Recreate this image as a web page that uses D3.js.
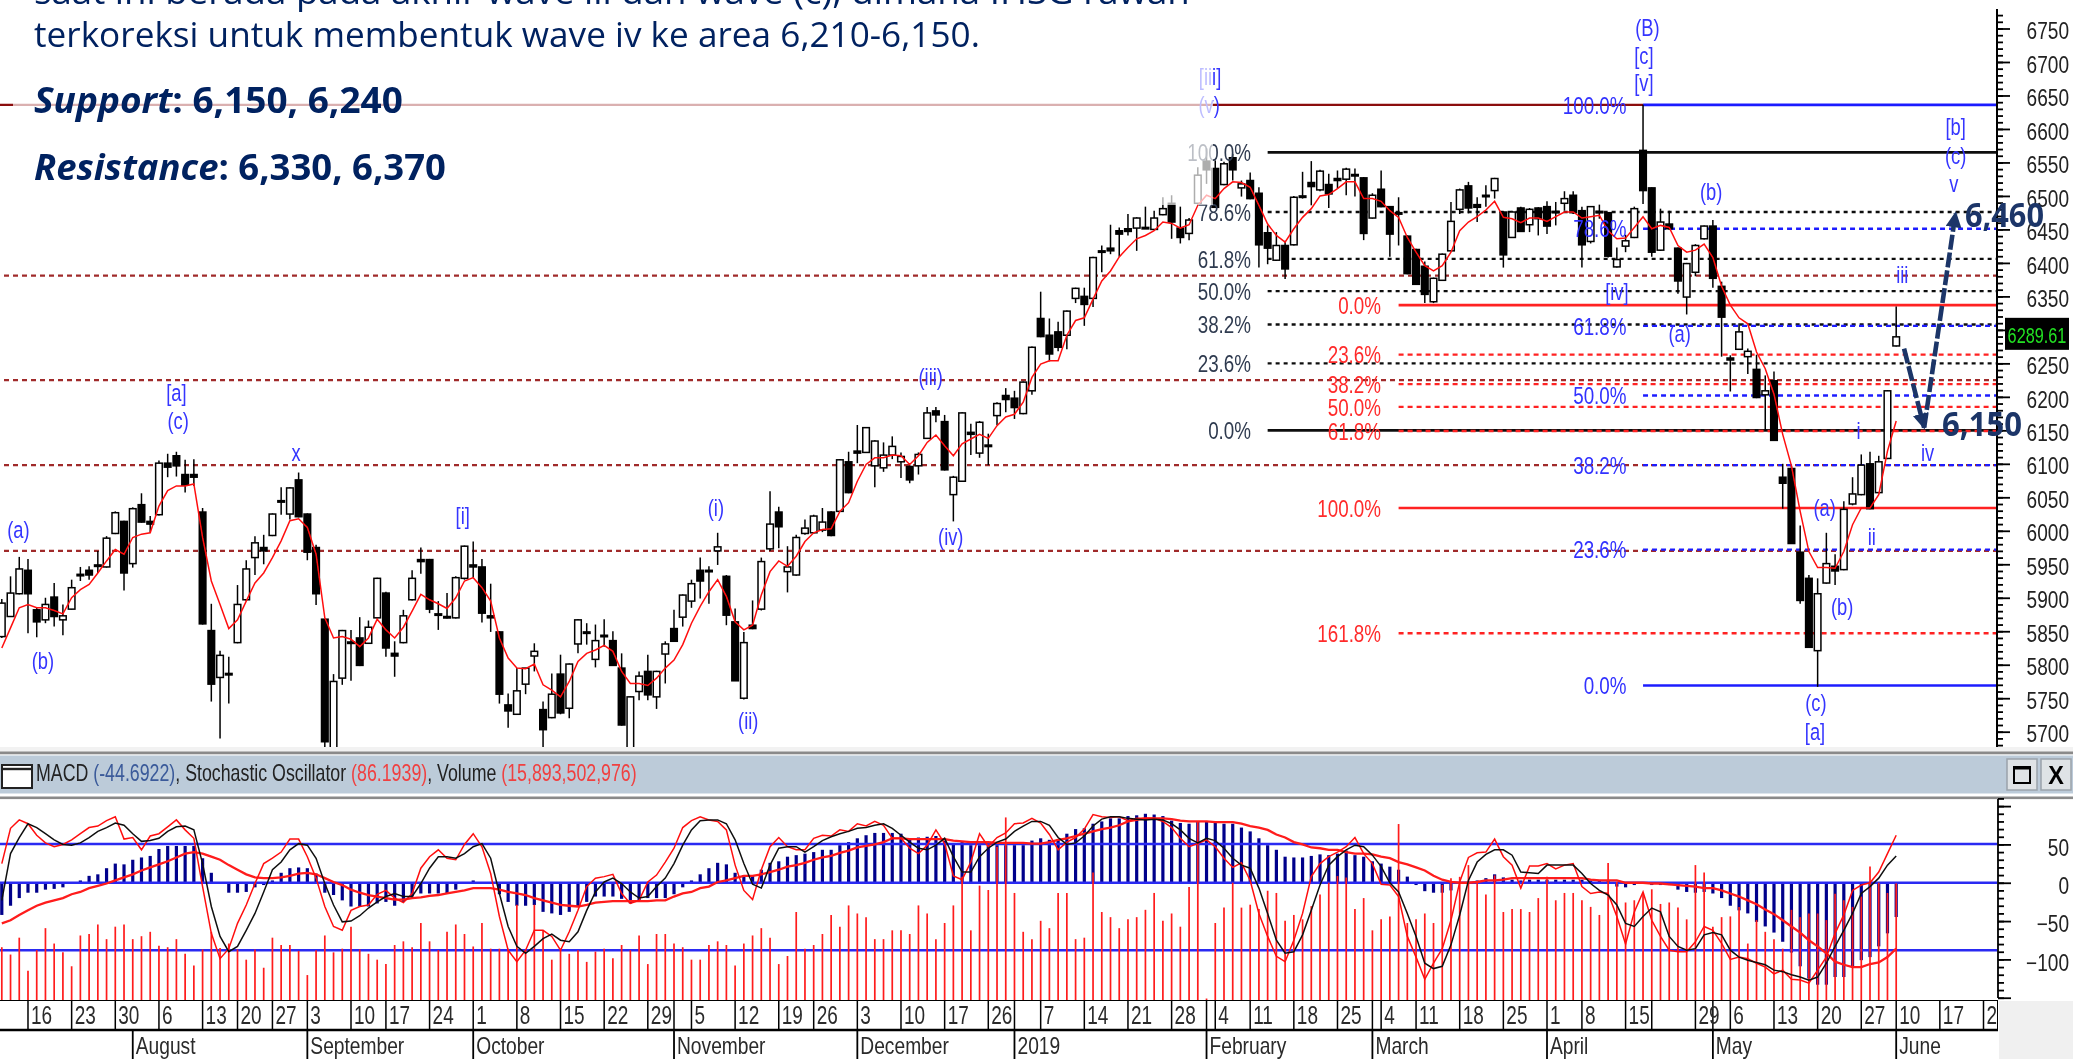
<!DOCTYPE html>
<html><head><meta charset="utf-8">
<script src="https://cdnjs.cloudflare.com/ajax/libs/d3/7.8.5/d3.min.js"></script>
<style>
html,body{margin:0;padding:0;background:#fff;overflow:hidden}
svg{display:block}
</style></head><body>
<svg id="c" width="2073" height="1059" font-family="Liberation Sans"></svg>
<script>
// [open, high, low, close] per trading session
const ohlc=[[5842,5898,5840,5892],[5872,5932,5872,5907],[5906,5961,5905,5943],[5941,5958,5847,5906],[5882,5885,5841,5864],[5867,5900,5862,5890],[5901,5922,5857,5872],[5867,5890,5844,5873],[5883,5927,5882,5915],[5934,5946,5925,5935],
[5941,5947,5927,5934],[5948,5970,5937,5949],[5946,5992,5945,5989],[5996,6029,5995,6027],[6014,6015,5911,5937],[5951,6035,5945,6033],[6039,6056,6012,6013],[6014,6022,5997,6010],[6024,6105,6023,6101],[6101,6115,6080,6095],
[6112,6118,6081,6097],[6084,6106,6057,6068],[6084,6107,6067,6080],[6028,6034,5860,5861],[5851,5891,5745,5771],[5781,5821,5690,5814],[5786,5812,5742,5787],[5833,5919,5832,5890],[5897,5956,5895,5943],[5960,5992,5934,5982],
[5975,5994,5950,5970],[5993,6026,5992,6025],[6044,6065,6024,6045],[6025,6065,6017,6064],[6076,6087,6020,6021],[6025,6026,5956,5968],[5975,5979,5889,5906],[5868,5868,5675,5685],[5665,5786,5660,5775],[5780,5852,5770,5851],
[5833,5852,5776,5834],[5840,5871,5798,5799],[5832,5866,5831,5856],[5870,5930,5869,5929],[5907,5909,5812,5825],[5817,5835,5782,5813],[5833,5882,5832,5873],[5897,5941,5896,5929],[5957,5975,5936,5954],[5957,5958,5877,5883],
[5875,5895,5852,5876],[5872,5907,5869,5870],[5870,5932,5869,5930],[5929,5978,5927,5977],[5949,5984,5929,5946],[5946,5958,5863,5877],[5873,5921,5849,5870],[5849,5850,5742,5756],[5740,5757,5706,5731],[5726,5795,5725,5761],
[5771,5795,5756,5795],[5813,5832,5790,5820],[5733,5745,5675,5703],[5721,5787,5720,5756],[5786,5815,5726,5728],[5735,5802,5720,5801],[5831,5868,5817,5867],[5847,5862,5830,5849],[5808,5860,5796,5836],[5842,5868,5827,5844],
[5836,5850,5798,5799],[5795,5817,5709,5710],[5675,5753,5665,5752],[5760,5790,5747,5783],[5790,5815,5747,5755],[5752,5791,5734,5790],[5816,5835,5772,5831],[5854,5882,5834,5835],[5871,5905,5857,5904],[5895,5927,5885,5921],
[5941,5960,5899,5925],[5940,5947,5891,5941],[5970,5997,5949,5976],[5932,5934,5859,5874],[5864,5884,5776,5776],[5750,5849,5748,5833],[5859,5896,5853,5854],[5883,5960,5881,5954],[5973,6059,5970,6010],[6028,6036,5974,6006],
[5939,5977,5908,5946],[5934,5994,5933,5990],[5996,6017,5994,6004],[5997,6024,5996,6022],[6001,6034,5998,6013],[6028,6029,5992,5993],[6029,6107,6028,6106],[6103,6118,6056,6057],[6119,6158,6101,6116],[6117,6154,6116,6154],
[6097,6135,6065,6134],[6094,6132,6088,6113],[6113,6141,6107,6126],[6103,6117,6079,6111],[6096,6098,6071,6076],[6097,6117,6084,6114],[6138,6185,6138,6176],[6179,6185,6162,6173],[6163,6173,6090,6091],[6054,6082,6014,6080],
[6074,6177,6073,6176],[6147,6160,6113,6144],[6116,6164,6109,6162],[6128,6145,6098,6126],[6172,6192,6158,6190],[6202,6213,6177,6196],[6198,6209,6167,6184],[6175,6223,6174,6222],[6209,6275,6203,6274],[6317,6357,6289,6290],
[6292,6317,6253,6264],[6297,6312,6268,6274],[6292,6329,6271,6328],[6347,6363,6340,6362],[6350,6363,6306,6338],[6347,6409,6334,6408],[6416,6426,6386,6418],[6422,6457,6413,6418],[6448,6453,6409,6443],[6451,6473,6441,6447],
[6452,6468,6418,6467],[6452,6484,6451,6453],[6450,6478,6449,6467],[6472,6498,6471,6481],[6489,6501,6436,6461],[6452,6484,6429,6438],[6444,6467,6434,6464],[6489,6543,6487,6531],[6552,6571,6518,6539],[6541,6553,6482,6483],
[6517,6551,6516,6548],[6557,6563,6523,6539],[6512,6523,6499,6518],[6523,6535,6495,6496],[6504,6513,6393,6427],[6445,6456,6398,6422],[6404,6446,6403,6426],[6426,6433,6376,6391],[6427,6500,6426,6498],[6498,6536,6496,6500],
[6520,6552,6486,6514],[6509,6539,6507,6537],[6517,6533,6482,6503],[6526,6538,6511,6523],[6525,6542,6501,6540],[6532,6541,6499,6530],[6527,6528,6434,6444],[6467,6504,6466,6501],[6510,6538,6483,6484],[6484,6485,6409,6443],
[6475,6498,6426,6473],[6440,6441,6383,6384],[6420,6421,6367,6368],[6395,6402,6340,6353],[6342,6378,6340,6377],[6374,6414,6373,6413],[6418,6491,6417,6462],[6480,6511,6473,6509],[6515,6521,6474,6482],[6487,6498,6461,6483],
[6501,6516,6484,6499],[6508,6527,6496,6526],[6476,6477,6393,6412],[6438,6478,6437,6476],[6482,6484,6446,6447],[6457,6482,6446,6480],[6482,6483,6441,6466],[6484,6492,6443,6455],[6477,6491,6456,6475],[6489,6507,6478,6496],
[6501,6507,6473,6475],[6478,6484,6393,6427],[6432,6485,6429,6484],[6477,6487,6466,6476],[6475,6476,6408,6410],[6394,6423,6393,6405],[6425,6442,6416,6433],[6438,6484,6437,6481],[6568,6636,6488,6508],[6512,6513,6409,6416],
[6419,6481,6418,6461],[6458,6478,6449,6451],[6422,6423,6354,6373],[6349,6400,6323,6399],[6386,6428,6380,6426],[6436,6456,6435,6455],[6455,6464,6363,6377],[6365,6372,6260,6319],[6258,6262,6208,6255],[6271,6310,6270,6297],
[6260,6272,6234,6268],[6241,6263,6198,6199],[6203,6232,6149,6209],[6224,6238,6135,6135],[6080,6100,6033,6071],[6093,6097,5981,5981],[5968,6008,5891,5896],[5929,5934,5826,5826],[5821,5929,5767,5906],[5922,5997,5921,5951],
[5947,5965,5919,5940],[5942,6044,5941,6032],[6040,6080,6038,6055],[6054,6114,6053,6098],[6100,6118,6032,6033],[6057,6112,6056,6103],[6108,6210,6107,6209],[6276,6335,6275,6289.61]];

const movingAverage=[5825,5855,5885,5890,5885,5885,5881,5876,5900,5912,5920,5937,5955,5972,5965,5990,5995,5997,6037,6060,6067,6067,6070,5990,5925,5890,5854,5867,5895,5922,5937,5960,5985,6015,6018,6005,5965,5870,5840,5842,5838,5827,5840,5868,5852,5840,5856,5880,5905,5897,5891,5884,5900,5925,5930,5915,5895,5840,5810,5795,5794,5801,5770,5762,5752,5775,5805,5817,5822,5829,5820,5790,5772,5772,5769,5780,5795,5807,5830,5862,5887,
5909,5927,5902,5864,5852,5859,5904,5939,5955,5947,5962,5984,5997,6002,6003,6029,6042,6074,6099,6109,6109,6113,6112,6099,6112,6132,6143,6127,6112,6130,6137,6144,6138,6157,6170,6174,6192,6229,6249,6254,6254,6292,6314,6318,6346,6373,6388,6409,6423,6436,6441,6448,6461,6459,6452,6457,6486,6501,6496,6511,6521,6520,6513,6486,6458,6441,6431,6451,6468,6481,6500,6502,6511,6521,6521,6496,6496,6492,6478,6468,6438,6416,6396,6388,6396,6416,6448,6461,6469,6479,6492,6468,6466,6460,6467,6467,6462,6469,6476,6476,6467,6469,6471,6448,6436,6437,6453,6469,6451,6456,6453,6426,6416,6419,6428,6408,6365,6337,6318,6309,6267,6242,6204,6144,6097,6029,5969,5945,5945,5944,5969,6009,6034,6034,6054,6119,6164];

const macdHistogram=[-42,-30,-20,-13,-13,-9,-8,-6,0,3,9,11,19,25,24,30,33,35,44,48,48,48,48,32,13,0,-13,-13,-12,-6,-3,3,13,19,20,19,12,-13,-16,-23,-31,-31,-31,-27,-25,-30,-25,-18,-14,-14,-14,-14,-9,0,3,0,0,-15,-25,-30,-30,-29,-38,-40,-42,-38,-31,-25,-18,-18,-18,-21,-27,-23,-20,-20,-20,-15,-6,3,11,
19,26,24,13,10,10,17,26,28,34,36,38,40,43,43,49,53,58,62,65,65,65,64,58,59,60,61,55,50,53,49,49,49,49,49,49,49,55,58,56,57,64,70,71,77,80,84,84,87,88,90,89,87,81,78,77,80,80,78,77,77,72,67,58,49,43,34,33,33,35,37,36,38,42,36,34,28,25,21,17,8,-3,-11,-13,-13,-10,0,0,3,6,11,7,4,3,4,4,4,4,4,4,4,3,3,3,-5,-6,-3,0,-3,-3,-3,-9,-12,-13,-12,-14,-20,-30,-36,-40,-51,-57,-65,-77,-91,-109,-125,-133,-133,-123,-123,-110,-101,-97,-83,-66,-44.7];

const macdSignal=[-53,-49,-42,-36,-30,-26,-23,-20,-15,-12,-7,-4,-1,3,7,11,16,20,24,28,33,38,40,38,34,30,23,17,11,7,6,6,7,9,12,13,11,6,1,-3,-9,-13,-16,-18,-20,-22,-22,-20,-19,-17,-16,-14,-12,-10,-7,-7,-7,-9,-12,-14,-16,-20,-23,-26,-29,-30,-31,-29,-26,-25,-24,-24,-24,-24,-24,-23,-23,-18,-14,-12,-7,
-5,1,3,6,9,9,11,14,17,21,23,26,30,33,35,39,42,46,48,50,53,58,58,57,57,57,57,57,55,54,53,53,53,52,52,52,52,51,51,53,56,58,61,64,67,70,72,75,80,82,84,84,84,83,81,80,80,80,79,79,79,77,74,72,69,63,59,53,50,46,45,43,43,40,38,38,37,34,32,27,24,20,16,9,4,1,0,0,1,3,3,4,6,6,6,6,6,6,6,6,6,4,3,3,3,0,0,0,-1,-1,-2,-3,-4,-5,-7,-7,-10,-14,-18,-23,-28,-35,-41,-49,-57,-65,-75,-83,-92,-103,-107,-110,-110,-106,-104,-97,-86];

const stochK=[25,71,82,77,62,52,47,50,56,64,72,74,81,86,57,59,43,61,64,73,82,69,58,-5,-66,-99,-86,-53,-29,-1,25,32,40,57,57,34,6,-31,-57,-62,-36,-31,-29,-15,-10,-20,-26,-14,19,34,43,32,30,50,64,47,12,-44,-88,-103,-88,-62,-62,-70,-88,-64,-36,-5,6,8,11,-14,-27,-23,1,10,27,45,72,81,86,
82,80,69,23,-10,-22,17,47,59,47,43,43,58,62,61,69,67,77,74,80,75,58,58,45,38,49,69,51,9,4,27,64,47,59,65,77,78,84,78,63,43,53,59,70,89,86,85,86,81,84,84,84,80,72,58,47,51,56,47,32,20,26,3,-40,-70,-96,-103,-75,-40,8,25,34,40,47,59,38,25,-2,-3,-18,-70,-97,-126,-105,-86,-49,1,33,39,40,57,34,23,-7,22,22,25,18,23,25,-5,-14,-12,-14,-44,-80,-38,-12,-49,-70,-88,-90,-90,-77,-57,-62,-79,-100,-97,-99,-105,-110,-119,-114,-126,-127,-131,-114,-97,-66,-42,-10,-3,0,14,38,62];

const stochD=[-23,38,59,77,72,64,56,50,49,52,59,67,72,78,75,64,54,55,58,67,73,74,69,25,-31,-70,-90,-83,-62,-40,-12,17,27,43,51,49,32,-1,-29,-51,-50,-43,-33,-25,-18,-14,-18,-18,-1,19,34,34,32,38,47,51,32,-14,-57,-83,-92,-83,-73,-67,-75,-77,-64,-36,-12,1,6,-1,-12,-20,-18,-5,6,25,49,69,81,
82,82,77,56,25,-2,-7,23,45,47,47,40,47,55,60,64,67,71,72,75,77,71,62,53,45,43,49,58,34,14,14,34,45,53,57,67,74,80,80,75,59,50,52,61,74,83,86,86,84,83,82,83,82,77,69,58,52,58,55,45,32,23,19,-7,-40,-75,-92,-90,-68,-36,-3,23,34,43,49,47,36,21,0,-12,-40,-70,-105,-112,-109,-81,-42,3,27,37,43,43,36,14,13,12,23,23,23,23,12,-1,-10,-16,-29,-53,-57,-44,-33,-38,-70,-83,-88,-86,-68,-65,-68,-88,-97,-101,-104,-107,-114,-116,-120,-123,-127,-123,-105,-83,-62,-40,-14,-5,6,23,35];

// daily volume, billions of shares
const volumeB=[7.2,6.2,8.5,4,6.8,9.8,7.7,6.5,4.6,8.8,9,10.3,8.3,10,10.3,8.3,8.7,9.3,7.4,7.2,8.3,6.3,4.7,6.9,9.3,7.1,7.7,6.9,5.5,6.9,4.4,8.5,7.5,7.5,6.7,3.4,6.8,8.8,6.5,7,10,6.9,6.3,5.5,4.9,7.5,8,7.2,10.5,8,6.8,9.3,10.3,9,7.3,10.5,7,7,7,13,6.8,13,9.5,5.5,6.8,6.3,6.8,5.2,6.6,7,5.7,7.5,6.8,8.8,4.9,9,9,7.7,7.2,5.5,5.5,
7.5,8,7.5,4.7,7.7,8.8,9.8,8.5,4.9,6,12,7,7.5,9,11.6,10,12.9,11.8,11.3,8.3,8.3,9.5,9.5,9,12.9,11.8,8.3,10.5,12.9,16.8,9.5,15.6,15,20.9,24.9,14.6,9.3,8.3,10.8,9.8,14.6,14.6,8.3,8.5,17.4,12,11.3,9.8,11,11.3,12.3,14.6,10.8,11.8,10,15.4,24.3,0.2,10.5,12.6,16,12.6,13,12.4,14.9,14.6,10.8,11.6,11,12.8,14.4,16,16.9,16.7,12.4,13.9,9.5,11,11.4,24,10.5,11,11.8,10.5,15.7,16.6,16.8,18.4,16.1,14.4,17,12,12.4,12.4,12,13.9,16.8,13.6,14.6,14.6,13.6,12.7,11.6,18.7,16.1,13.3,13.6,14.5,15.1,13.1,13.3,12.6,11,18.4,17.4,10,11.3,11.4,12.7,7.7,10.9,9.3,8.3,7,12.3,11.3,11.8,11.8,10.9,14.5,13.6,12.7,14.1,18.2,16,14.6,15.9];

const priceTicks=d3.range(5700,6751,50);
const priceMinor=d3.range(5680,6771,10);
const oscTicks=[-100,-50,0,50];
const oscTicksMajor=[-150,-100,-50,0,50,100];
const oscMinor=d3.range(-150,111,10);
const oscLevels=[50.5,0,-88];
const tagValue=6289.61;

const dayIdx=[3,8,13,18,23,27,31,35,40,44,49,54,59,64,69,74,79,84,89,93,98,103,108,113,119,124,129,134,139,143,148,153,158,162,167,172,177,181,186,194,198,203,208,213,217,222,227];
const dayLabels=["16","23","30","6","13","20","27","3","10","17","24","1","8","15","22","29","5","12","19","26","3","10","17","26","7","14","21","28","4","11","18","25","4","11","18","25","1","8","15","29","6","13","20","27","10","17","2"];
const extraDayTicks=[77,116,138,157,189,196];
const monthIdx=[15,35,54,77,98,116,138,157,177,196,217];
const monthLabels=["August","September","October","November","December","2019","February","March","April","May","June"];

const resistanceDashed=[6381,6225,6098,5970];
const topLine=6636;
const fibBlackPct=["100.0%","78.6%","61.8%","50.0%","38.2%","23.6%","0.0%"];
const fibBlack=[6565,6476,6406,6358,6308,6250,6150];
const fibBlackSolid=[true,false,false,false,false,false,true];
const fibRedPct=["0.0%","23.6%","38.2%","50.0%","61.8%","100.0%","161.8%"];
const fibRed=[6337,6263,6219,6185,6149,6034,5847];
const fibRedSolid=[true,false,false,false,false,true,false];
const fibBluePct=["100.0%","78.6%","61.8%","50.0%","38.2%","23.6%","0.0%"];
const fibBlue=[6636,6451,6306,6202,6098,5972,5769];
const fibBlueSolid=[true,false,false,false,false,false,true];

const waveText=["(a)","(b)","[a]","(c)","x","[i]","(i)","(ii)","(iii)","(iv)","[iii]","(v)","(B)","[c]","[v]","[b]","(c)","v","(b)","[iv]","(a)","iii","i","iv","(a)","ii","(b)","(c)","[a]"];
const waveIdx=[1.9,4.7,20,20.2,33.7,52.8,81.8,85.5,106.4,108.7,138.4,138.3,188.5,188.1,188.1,223.8,223.8,223.6,195.8,185,192.2,217.7,212.7,220.6,208.8,214.2,210.8,207.8,207.7];
const wavePrice=[6001,5806,6207,6165,6116,6023,6034,5716,6230,5991,6678,6636,6752,6710,6669,6603,6560,6519,6507,6357,6295,6383,6149,6116,6034,5991,5886,5743,5700];

const arrowDownIdx=[217.9,220.2],arrowDownPrice=[6272,6154];
const arrowUpIdx=[220.2,223.8],arrowUpPrice=[6154,6474];

const svg=d3.select("#c");
const AX=1997;
const FF="Liberation Sans";
const x=d3.scaleLinear().domain([0,217]).range([1.8,1896.2]);
const y=d3.scaleLinear().domain([5700,6750]).range([731.7,28.5]);
const o=d3.scaleLinear().domain([-100,100]).range([959.4,806.1]);
const v=d3.scaleLinear().domain([0,25]).range([1000,816.7]);
const defs=svg.append("defs");
defs.append("filter").attr("id","soft").attr("x",0).attr("y",0).attr("width",1).attr("height",1)
  .attr("filterUnits","objectBoundingBox").append("feGaussianBlur").attr("stdDeviation",0.7);
defs.append("clipPath").attr("id","pp").append("rect").attr("width",AX).attr("height",747);
defs.append("clipPath").attr("id","op").append("rect").attr("y",799).attr("width",AX).attr("height",201);
defs.append("clipPath").attr("id","dp").append("rect").attr("y",1000).attr("width",1998).attr("height",59);
const mk=defs.append("marker").attr("id","ah").attr("markerUnits","userSpaceOnUse")
 .attr("markerWidth",18).attr("markerHeight",18).attr("refX",14).attr("refY",8).attr("orient","auto");
mk.append("path").attr("d","M0,0L16,8L0,16Z").attr("fill","#1a3668");

const root=svg.append("g").attr("filter","url(#soft)");
root.append("rect").attr("width",2073).attr("height",1059).attr("fill","#fff");

function lab(g,tx,ty,s,col,size,sx,anchor,weight){
  return g.append("text").attr("transform",`translate(${tx},${ty}) scale(${sx},1)`)
    .attr("text-anchor",anchor||"middle").attr("dominant-baseline","central")
    .attr("font-size",size).attr("fill",col).attr("font-weight",weight||"normal").text(s);
}

// price pane
const pp=root.append("g").attr("clip-path","url(#pp)");
pp.append("line").attr("x1",0).attr("x2",x(188)).attr("y1",y(topLine)).attr("y2",y(topLine)).attr("stroke","#8b0a0a").attr("stroke-width",2.4);
resistanceDashed.forEach(p=>pp.append("line").attr("x1",4).attr("x2",AX).attr("y1",y(p)).attr("y2",y(p)).attr("stroke","#a02c2c").attr("stroke-width",2.3).attr("stroke-dasharray","5 4"));
function fib(vals,solid,startIdx,col,dash){
  vals.forEach((p,i)=>pp.append("line").attr("x1",x(startIdx)).attr("x2",AX).attr("y1",y(p)).attr("y2",y(p))
      .attr("stroke",col).attr("stroke-width",solid[i]?2.6:2.3).attr("stroke-dasharray",solid[i]?null:dash));
}
fib(fibBlack,fibBlackSolid,145,"#111","4 4");
fib(fibRed,fibRedSolid,160,"#ff2222","5 4");
fib(fibBlue,fibBlueSolid,188,"#1f1fff","5 4");

const cand=pp.append("g").selectAll("g").data(ohlc).join("g");
cand.append("line").attr("x1",(d,i)=>x(i)).attr("x2",(d,i)=>x(i)).attr("y1",d=>y(d[1])).attr("y2",d=>y(d[2])).attr("stroke","#000").attr("stroke-width",1.5);
cand.append("rect").attr("x",(d,i)=>x(i)-3.3).attr("width",6.6)
  .attr("y",d=>y(Math.max(d[0],d[3]))).attr("height",d=>Math.max(1.5,Math.abs(y(d[0])-y(d[3]))))
  .attr("fill",d=>d[3]>=d[0]?"#fff":"#000").attr("stroke","#000").attr("stroke-width",1.5);
pp.append("path").datum(movingAverage).attr("fill","none").attr("stroke","#ff1010").attr("stroke-width",1.5)
  .attr("d",d3.line().x((d,i)=>x(i)).y(d=>y(d)));

function fibLabels(vals,pcts,right,col){vals.forEach((p,i)=>lab(pp,right,y(p)+1,pcts[i],col,23.5,0.8,"end"));}
fibLabels(fibBlack,fibBlackPct,1251,"#2f3a4f");
fibLabels(fibRed,fibRedPct,1381,"#ff2a2a");
fibLabels(fibBlue,fibBluePct,1626.5,"#3030ff");
waveText.forEach((t,i)=>lab(pp,x(waveIdx[i]),y(wavePrice[i]),t,"#3434ff",23.5,0.78));

// price axis
const pa=root.append("g").attr("transform",`translate(${AX},0)`);
pa.append("line").attr("y1",9).attr("y2",748).attr("stroke","#000").attr("stroke-width",2);
pa.call(d3.axisRight(y).tickValues(priceMinor).tickSize(6).tickFormat("")).select(".domain").remove();
const pa2=root.append("g").attr("transform",`translate(${AX},0)`);
pa2.call(d3.axisRight(y).tickValues(priceTicks).tickSize(13).tickFormat(d3.format("d")));
pa2.select(".domain").remove();
pa2.selectAll("text").attr("x",0).attr("dy",null).attr("text-anchor","end").attr("dominant-baseline","central")
  .attr("font-size",23).attr("fill","#222").attr("font-family",FF)
  .attr("transform",d=>`translate(72,2) scale(0.83,1)`);
root.selectAll(".tick line").attr("stroke","#000").attr("stroke-width",1.8);

// arrows
function arrow(ix,px){
  root.append("path").datum(ix).attr("fill","none").attr("stroke","#1a3668").attr("stroke-width",4.6)
   .attr("stroke-dasharray","15 3").attr("marker-end","url(#ah)")
   .attr("d",d3.line().x(d=>x(d)).y((d,i)=>y(px[i])));
}
arrow(arrowDownIdx,arrowDownPrice);arrow(arrowUpIdx,arrowUpPrice);

// price tag
root.append("rect").attr("x",2005).attr("y",y(tagValue)-19).attr("width",64).attr("height",32).attr("fill","#000");
lab(root,2037,y(tagValue)-2,d3.format(".2f")(tagValue),"#22e022",22,0.74);

// translucent text box
root.append("rect").attr("x",13).attr("y",0).attr("width",1200).attr("height",205).attr("fill","#fff").attr("opacity",0.68);

// divider and header
root.append("rect").attr("y",747).attr("width",2073).attr("height",5).attr("fill","#f2f2f2");
root.append("rect").attr("y",751.5).attr("width",2073).attr("height",2.8).attr("fill","#8a8a8a");
root.append("rect").attr("y",755.5).attr("width",2073).attr("height",38).attr("fill","#bccbd9");
root.append("rect").attr("y",796.5).attr("width",2073).attr("height",2.6).attr("fill","#8a8a8a");
root.append("rect").attr("x",2).attr("y",765).attr("width",30).attr("height",23).attr("fill","#fff").attr("stroke","#222").attr("stroke-width",2);
root.append("line").attr("x1",2).attr("x2",32).attr("y1",769).attr("y2",769).attr("stroke","#222").attr("stroke-width",2.4);
const ht=root.append("text").attr("id","hdr").attr("font-size",24).attr("dominant-baseline","central");
[["MACD ","#222"],["(-44.6922)","#3a5a9a"],[", Stochastic Oscillator ","#222"],["(86.1939)","#f04040"],[", Volume ","#222"],["(15,893,502,976)","#f04040"]]
 .forEach(s=>ht.append("tspan").attr("fill",s[1]).text(s[0]));
const hw=ht.node().getComputedTextLength();
ht.attr("transform",`translate(36,772) scale(${601/hw},1)`);
[2007,2041].forEach(b=>root.append("rect").attr("x",b).attr("y",759).attr("width",30).attr("height",31).attr("fill","#dfe3e6").attr("stroke","#9aa3aa").attr("stroke-width",1.5));
root.append("rect").attr("x",2014).attr("y",767).attr("width",16).attr("height",16).attr("fill","none").attr("stroke","#000").attr("stroke-width",2);
root.append("line").attr("x1",2014).attr("x2",2030).attr("y1",768).attr("y2",768).attr("stroke","#000").attr("stroke-width",3);
lab(root,2056,775,"X","#000",26,0.9,"middle","bold");

// oscillator pane
const op=root.append("g").attr("clip-path","url(#op)");
op.append("g").selectAll("line").data(macdHistogram).join("line")
  .attr("x1",(d,i)=>x(i)).attr("x2",(d,i)=>x(i)).attr("y1",o(0)).attr("y2",d=>o(d)).attr("stroke","#00008b").attr("stroke-width",3.2);
oscLevels.forEach(l=>op.append("line").attr("x1",0).attr("x2",AX).attr("y1",o(l)).attr("y2",o(l)).attr("stroke","#2a2af2").attr("stroke-width",2.6));
op.append("g").selectAll("line").data(volumeB).join("line")
  .attr("x1",(d,i)=>x(i)).attr("x2",(d,i)=>x(i)).attr("y1",v(0)).attr("y2",d=>v(d)).attr("stroke","#ff1a1a").attr("stroke-width",1.7);
const oLine=d3.line().x((d,i)=>x(i)).y(d=>o(d));
op.append("path").datum(macdSignal).attr("fill","none").attr("stroke","#ff1a1a").attr("stroke-width",2.3).attr("d",oLine);
op.append("path").datum(stochK).attr("fill","none").attr("stroke","#ff1010").attr("stroke-width",1.5).attr("d",oLine);
op.append("path").datum(stochD).attr("fill","none").attr("stroke","#111").attr("stroke-width",1.5).attr("d",oLine);

// oscillator axis
const oa=root.append("g").attr("transform",`translate(1998,0)`);
oa.append("line").attr("y1",799).attr("y2",998).attr("stroke","#000").attr("stroke-width",2);
oa.append("g").call(d3.axisRight(o).tickValues(oscMinor).tickSize(6).tickFormat("")).select(".domain").remove();
oa.append("g").call(d3.axisRight(o).tickValues(oscTicksMajor).tickSize(13).tickFormat("")).select(".domain").remove();
oa.selectAll("line").attr("stroke","#000").attr("stroke-width",1.8);
oscTicks.forEach(t=>lab(root,2069,o(t)+3,d3.format("d")(t),"#222",23,0.83,"end"));

// date axis
root.append("rect").attr("x",1999).attr("y",1001).attr("width",74).attr("height",58).attr("fill","#f0f0f0");
const dp=root.append("g").attr("clip-path","url(#dp)");
dp.append("line").attr("x1",0).attr("x2",1998).attr("y1",1000).attr("y2",1000).attr("stroke","#000").attr("stroke-width",2);
dp.append("line").attr("x1",0).attr("x2",1998).attr("y1",1030).attr("y2",1030).attr("stroke","#000").attr("stroke-width",2.4);
dp.append("line").attr("x1",1998).attr("x2",1998).attr("y1",1000).attr("y2",1030).attr("stroke","#000").attr("stroke-width",2);
dayIdx.concat(extraDayTicks).forEach(i=>dp.append("line").attr("x1",x(i)).attr("x2",x(i)).attr("y1",1000).attr("y2",1030).attr("stroke","#000").attr("stroke-width",1.5));
dayLabels.forEach((t,k)=>lab(dp,x(dayIdx[k])+3,1015.5,t,"#2a2a2a",25,0.76,"start"));
monthIdx.forEach((i,k)=>{
  dp.append("line").attr("x1",x(i)).attr("x2",x(i)).attr("y1",1030).attr("y2",1059).attr("stroke","#000").attr("stroke-width",1.8);
  lab(dp,x(i)+3,1045.5,monthLabels[k],"#2a2a2a",24,0.8,"start");
});

// overlay commentary
const navy="#002060";
function fit(tx,base,w,size,parts){
  const t=root.append("text").attr("font-family","Open Sans").attr("font-size",size).attr("fill",navy);
  parts.forEach(p=>t.append("tspan").attr("font-style",p[1]?"italic":"normal").attr("font-weight",p[2]?"bold":"normal").text(p[0]));
  const L=t.node().getComputedTextLength();
  t.attr("transform",`translate(${tx},${base}) scale(${w/L},1)`);
}
fit(34,4,1156,35,[["saat ini berada pada akhir  wave iii dan wave (c), dimana IHSG rawan",0,0]]);
fit(34,47,946,35,[["terkoreksi untuk membentuk wave iv ke area 6,210-6,150.",0,0]]);
fit(34,113,369,36,[["Support",1,1],[": 6,150, 6,240",0,1]]);
fit(34,180,412,36,[["Resistance",1,1],[": 6,330, 6,370",0,1]]);
[["6,460",1965,213,79],["6,150",1942,423,80]].forEach(a=>{
  const t=lab(root,a[1],a[2],a[0],"#1a3668",34,1,"start","bold").attr("font-family","Open Sans");
  const L=t.node().getComputedTextLength();
  t.attr("transform",`translate(${a[1]},${a[2]}) scale(${a[3]/L},1)`);
});
</script>
</body></html>
